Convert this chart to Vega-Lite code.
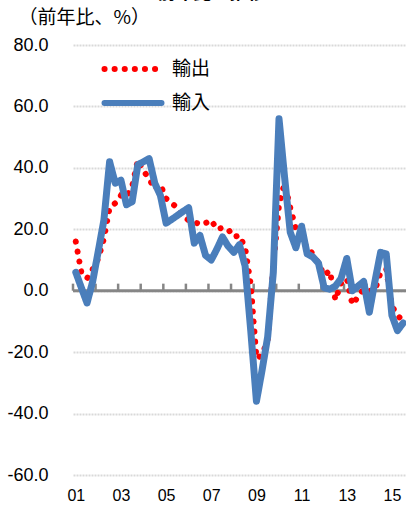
{
  "$schema": "https://vega.github.io/schema/vega-lite/v6.json",
  "autosize": {"type": "none"},
  "width": 333,
  "height": 430,
  "padding": {"left": 73, "top": 45, "right": 0, "bottom": 39},
  "background": "white",
  "title": {"text": "前年比の推移", "font": "Noto Sans CJK JP", "fontSize": 18, "fontWeight": "bold", "color": "black", "anchor": "middle", "frame": "group", "dx": -28, "dy": -5, "offset": 0},
  "config": {"view": {"stroke": null}, "font": "Liberation Sans"},
  "datasets": {
    "trade": [
      {"quarter": "2001-02-15", "series": "輸出", "value": 16},
      {"quarter": "2001-05-16", "series": "輸出", "value": 6},
      {"quarter": "2001-08-16", "series": "輸出", "value": 4},
      {"quarter": "2001-11-15", "series": "輸出", "value": 7},
      {"quarter": "2002-02-15", "series": "輸出", "value": 10.5},
      {"quarter": "2002-05-16", "series": "輸出", "value": 17},
      {"quarter": "2002-08-16", "series": "輸出", "value": 27},
      {"quarter": "2002-11-15", "series": "輸出", "value": 28.5},
      {"quarter": "2003-02-15", "series": "輸出", "value": 31},
      {"quarter": "2003-05-16", "series": "輸出", "value": 30.5},
      {"quarter": "2003-08-16", "series": "輸出", "value": 34},
      {"quarter": "2003-11-15", "series": "輸出", "value": 42.5},
      {"quarter": "2004-02-15", "series": "輸出", "value": 39},
      {"quarter": "2004-05-16", "series": "輸出", "value": 36.5},
      {"quarter": "2004-08-16", "series": "輸出", "value": 33},
      {"quarter": "2004-11-15", "series": "輸出", "value": 34.5},
      {"quarter": "2005-02-15", "series": "輸出", "value": 30},
      {"quarter": "2005-05-16", "series": "輸出", "value": 28.5},
      {"quarter": "2005-08-16", "series": "輸出", "value": 27},
      {"quarter": "2005-11-15", "series": "輸出", "value": 24},
      {"quarter": "2006-02-15", "series": "輸出", "value": 23},
      {"quarter": "2006-05-16", "series": "輸出", "value": 22.5},
      {"quarter": "2006-08-16", "series": "輸出", "value": 21.5},
      {"quarter": "2006-11-15", "series": "輸出", "value": 22},
      {"quarter": "2007-02-15", "series": "輸出", "value": 23},
      {"quarter": "2007-05-16", "series": "輸出", "value": 20},
      {"quarter": "2007-08-16", "series": "輸出", "value": 20.5},
      {"quarter": "2007-11-15", "series": "輸出", "value": 20},
      {"quarter": "2008-02-15", "series": "輸出", "value": 17.5},
      {"quarter": "2008-05-16", "series": "輸出", "value": 18},
      {"quarter": "2008-08-16", "series": "輸出", "value": 14},
      {"quarter": "2008-11-15", "series": "輸出", "value": 2},
      {"quarter": "2009-02-15", "series": "輸出", "value": -22},
      {"quarter": "2009-05-16", "series": "輸出", "value": -21},
      {"quarter": "2009-08-16", "series": "輸出", "value": -16},
      {"quarter": "2009-11-15", "series": "輸出", "value": 8},
      {"quarter": "2010-02-15", "series": "輸出", "value": 28},
      {"quarter": "2010-05-16", "series": "輸出", "value": 35},
      {"quarter": "2010-08-16", "series": "輸出", "value": 27},
      {"quarter": "2010-11-15", "series": "輸出", "value": 20},
      {"quarter": "2011-02-15", "series": "輸出", "value": 17},
      {"quarter": "2011-05-16", "series": "輸出", "value": 14},
      {"quarter": "2011-08-16", "series": "輸出", "value": 12},
      {"quarter": "2011-11-15", "series": "輸出", "value": 9},
      {"quarter": "2012-02-15", "series": "輸出", "value": 5},
      {"quarter": "2012-05-16", "series": "輸出", "value": 6.5},
      {"quarter": "2012-08-16", "series": "輸出", "value": -3},
      {"quarter": "2012-11-15", "series": "輸出", "value": 2.5},
      {"quarter": "2013-02-15", "series": "輸出", "value": 4},
      {"quarter": "2013-05-16", "series": "輸出", "value": -4.5},
      {"quarter": "2013-08-16", "series": "輸出", "value": -2},
      {"quarter": "2013-11-15", "series": "輸出", "value": 0.5},
      {"quarter": "2014-02-15", "series": "輸出", "value": 0},
      {"quarter": "2014-05-16", "series": "輸出", "value": 0},
      {"quarter": "2014-08-16", "series": "輸出", "value": 6},
      {"quarter": "2014-11-15", "series": "輸出", "value": 7},
      {"quarter": "2015-02-15", "series": "輸出", "value": -5},
      {"quarter": "2015-05-16", "series": "輸出", "value": -8},
      {"quarter": "2015-08-16", "series": "輸出", "value": -10},
      {"quarter": "2001-02-15", "series": "輸入", "value": 6},
      {"quarter": "2001-05-16", "series": "輸入", "value": 1},
      {"quarter": "2001-08-16", "series": "輸入", "value": -4},
      {"quarter": "2001-11-15", "series": "輸入", "value": 3},
      {"quarter": "2002-02-15", "series": "輸入", "value": 13},
      {"quarter": "2002-05-16", "series": "輸入", "value": 23},
      {"quarter": "2002-08-16", "series": "輸入", "value": 42},
      {"quarter": "2002-11-15", "series": "輸入", "value": 35},
      {"quarter": "2003-02-15", "series": "輸入", "value": 36},
      {"quarter": "2003-05-16", "series": "輸入", "value": 28},
      {"quarter": "2003-08-16", "series": "輸入", "value": 29},
      {"quarter": "2003-11-15", "series": "輸入", "value": 41},
      {"quarter": "2004-02-15", "series": "輸入", "value": 42},
      {"quarter": "2004-05-16", "series": "輸入", "value": 43},
      {"quarter": "2004-08-16", "series": "輸入", "value": 35},
      {"quarter": "2004-11-15", "series": "輸入", "value": 31},
      {"quarter": "2005-02-15", "series": "輸入", "value": 22},
      {"quarter": "2005-05-16", "series": "輸入", "value": 23.2},
      {"quarter": "2005-08-16", "series": "輸入", "value": 24.5},
      {"quarter": "2005-11-15", "series": "輸入", "value": 25.8},
      {"quarter": "2006-02-15", "series": "輸入", "value": 27},
      {"quarter": "2006-05-16", "series": "輸入", "value": 15.5},
      {"quarter": "2006-08-16", "series": "輸入", "value": 18},
      {"quarter": "2006-11-15", "series": "輸入", "value": 11.5},
      {"quarter": "2007-02-15", "series": "輸入", "value": 10},
      {"quarter": "2007-05-16", "series": "輸入", "value": 13.5},
      {"quarter": "2007-08-16", "series": "輸入", "value": 17.5},
      {"quarter": "2007-11-15", "series": "輸入", "value": 14.5},
      {"quarter": "2008-02-15", "series": "輸入", "value": 12.5},
      {"quarter": "2008-05-16", "series": "輸入", "value": 15},
      {"quarter": "2008-08-16", "series": "輸入", "value": 8},
      {"quarter": "2008-11-15", "series": "輸入", "value": -13},
      {"quarter": "2009-02-15", "series": "輸入", "value": -36},
      {"quarter": "2009-05-16", "series": "輸入", "value": -26},
      {"quarter": "2009-08-16", "series": "輸入", "value": -15},
      {"quarter": "2009-11-15", "series": "輸入", "value": 6},
      {"quarter": "2010-02-15", "series": "輸入", "value": 56},
      {"quarter": "2010-05-16", "series": "輸入", "value": 37},
      {"quarter": "2010-08-16", "series": "輸入", "value": 19},
      {"quarter": "2010-11-15", "series": "輸入", "value": 14},
      {"quarter": "2011-02-15", "series": "輸入", "value": 21},
      {"quarter": "2011-05-16", "series": "輸入", "value": 12},
      {"quarter": "2011-08-16", "series": "輸入", "value": 11},
      {"quarter": "2011-11-15", "series": "輸入", "value": 9},
      {"quarter": "2012-02-15", "series": "輸入", "value": 1},
      {"quarter": "2012-05-16", "series": "輸入", "value": 0.5},
      {"quarter": "2012-08-16", "series": "輸入", "value": 1.5},
      {"quarter": "2012-11-15", "series": "輸入", "value": 4},
      {"quarter": "2013-02-15", "series": "輸入", "value": 10.5},
      {"quarter": "2013-05-16", "series": "輸入", "value": 0},
      {"quarter": "2013-08-16", "series": "輸入", "value": 1.5},
      {"quarter": "2013-11-15", "series": "輸入", "value": 3},
      {"quarter": "2014-02-15", "series": "輸入", "value": -7},
      {"quarter": "2014-05-16", "series": "輸入", "value": 3},
      {"quarter": "2014-08-16", "series": "輸入", "value": 12.5},
      {"quarter": "2014-11-15", "series": "輸入", "value": 12},
      {"quarter": "2015-02-15", "series": "輸入", "value": -8},
      {"quarter": "2015-05-16", "series": "輸入", "value": -13},
      {"quarter": "2015-08-16", "series": "輸入", "value": -10.5}
    ],
    "yearTicks": [
      {"year": "2001-01-01"}, {"year": "2002-01-01"}, {"year": "2003-01-01"}, {"year": "2004-01-01"},
      {"year": "2005-01-01"}, {"year": "2006-01-01"}, {"year": "2007-01-01"}, {"year": "2008-01-01"},
      {"year": "2009-01-01"}, {"year": "2010-01-01"}, {"year": "2011-01-01"}, {"year": "2012-01-01"},
      {"year": "2013-01-01"}, {"year": "2014-01-01"}, {"year": "2015-01-01"}
    ]
  },
  "layer": [
    {
      "data": {"values": [{}]},
      "mark": {"type": "rule", "color": "#868686", "strokeWidth": 3},
      "encoding": {"y": {"datum": 0, "type": "quantitative"}}
    },
    {
      "data": {"name": "yearTicks"},
      "mark": {"type": "rule", "color": "#868686", "strokeWidth": 2.5},
      "encoding": {
        "x": {"field": "year", "type": "temporal"},
        "y": {"datum": 0, "type": "quantitative"},
        "y2": {"datum": 2.3}
      }
    },
    {
      "data": {"name": "trade"},
      "transform": [{"filter": "datum.series === '輸出'"}],
      "mark": {"type": "line", "strokeWidth": 6, "strokeCap": "round"},
      "encoding": {
        "x": {
          "field": "quarter", "type": "temporal",
          "scale": {"type": "utc", "domain": [{"year": 2001, "month": 1, "date": 1, "utc": true}, {"year": 2015, "month": 10, "date": 1, "utc": true}]},
          "axis": {
            "values": [
              {"year": 2001, "month": 2, "date": 15, "utc": true},
              {"year": 2003, "month": 2, "date": 15, "utc": true},
              {"year": 2005, "month": 2, "date": 15, "utc": true},
              {"year": 2007, "month": 2, "date": 15, "utc": true},
              {"year": 2009, "month": 2, "date": 15, "utc": true},
              {"year": 2011, "month": 2, "date": 15, "utc": true},
              {"year": 2013, "month": 2, "date": 15, "utc": true},
              {"year": 2015, "month": 2, "date": 15, "utc": true}
            ],
            "format": "%y", "domain": false, "ticks": false, "grid": false, "title": null,
            "labelFont": "Liberation Sans", "labelFontSize": 16, "labelColor": "black", "labelPadding": 12, "labelOverlap": false, "labelFlush": false
          }
        },
        "y": {
          "field": "value", "type": "quantitative",
          "scale": {"domain": [-60, 80], "nice": false, "zero": false},
          "axis": {
            "values": [-60, -40, -20, 0, 20, 40, 60, 80],
            "labelExpr": "replace(format(datum.value, '.1f'), '−', '-')",
            "domain": false, "ticks": false, "grid": true, "gridColor": "#D9D9D9", "gridWidth": 2, "gridDash": [2, 1],
            "labelFont": "Liberation Sans", "labelFontSize": 18, "labelColor": "black", "labelPadding": 25,
            "title": "（前年比、%）", "titleAngle": 0, "titleFont": "Noto Sans CJK JP", "titleFontSize": 19, "titleFontWeight": "normal", "titleColor": "black",
            "titleAlign": "left", "titleBaseline": "alphabetic", "titleX": -55, "titleY": -22
          }
        },
        "color": {
          "field": "series", "type": "nominal",
          "scale": {"domain": ["輸出", "輸入"], "range": ["#FF0000", "#4A7EBB"]},
          "legend": {"orient": "none", "legendX": 42, "legendY": 6, "title": null, "direction": "vertical", "symbolType": "M-1.9,0H1.9", "symbolSize": 900, "symbolStrokeWidth": 6, "rowPadding": 4, "padding": 0, "labelFont": "Noto Sans CJK JP", "labelFontSize": 19, "labelColor": "black", "labelOffset": 21, "encode": {"symbols": {"update": {"strokeCap": {"value": "round"}}}}}
        },
        "strokeDash": {
          "field": "series", "type": "nominal",
          "scale": {"domain": ["輸出", "輸入"], "range": [[0.1, 10], [1, 0]]},
          "legend": {"orient": "none", "legendX": 42, "legendY": 6, "title": null, "direction": "vertical", "symbolType": "M-1.9,0H1.9", "symbolSize": 900, "symbolStrokeWidth": 6, "rowPadding": 4, "padding": 0, "labelFont": "Noto Sans CJK JP", "labelFontSize": 19, "labelColor": "black", "labelOffset": 21, "encode": {"symbols": {"update": {"strokeCap": {"value": "round"}}}}}
        }
      }
    },
    {
      "data": {"name": "trade"},
      "transform": [{"filter": "datum.series === '輸入'"}],
      "mark": {"type": "line", "strokeWidth": 7, "strokeCap": "round", "strokeJoin": "round"},
      "encoding": {
        "x": {"field": "quarter", "type": "temporal"},
        "y": {"field": "value", "type": "quantitative"},
        "color": {"field": "series", "type": "nominal"},
        "strokeDash": {"field": "series", "type": "nominal"}
      }
    }
  ]
}
